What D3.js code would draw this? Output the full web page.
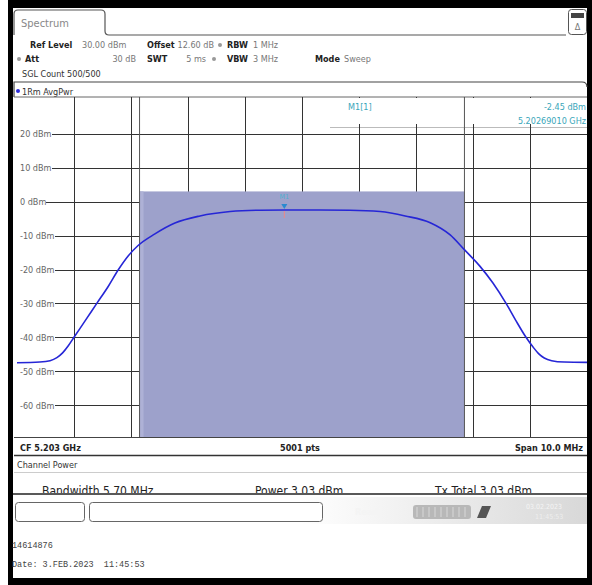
<!DOCTYPE html>
<html>
<head>
<meta charset="utf-8">
<script src="https://cdn.jsdelivr.net/npm/d3@7"></script>
<style>
  body { margin: 0; background: #fff; }
  svg { display: block; }
  text { font-family: "DejaVu Sans Condensed", "DejaVu Sans", sans-serif; }
  .mono { font-family: "Liberation Mono", "DejaVu Sans Mono", monospace; }
</style>
</head>
<body>
<div id="chart"></div>
<script>
// trace: frequency offset from centre (MHz) and level (dBm)
var freqOffset = [-5.0, -4.6, -4.42, -4.3, -4.2, -4.1, -4.0, -3.8, -3.6, -3.4, -3.22, -3.05, -2.88, -2.58, -2.23, -1.79, -1.26, -0.74, -0.3,
                  0.0, 0.32, 0.84, 1.37, 1.81, 2.25, 2.6, 2.84, 3.12, 3.35, 3.58, 3.75, 3.93, 4.05, 4.15, 4.25, 4.38, 4.6, 5.0];
var level = [-47.5, -47.3, -46.9, -46.0, -44.6, -42.5, -40, -35, -30, -25, -20, -16, -13, -9.5, -6.3, -4.2, -2.9, -2.5, -2.45,
             -2.45, -2.45, -2.5, -2.9, -4.2, -6.2, -9.8, -14, -19, -24, -30, -35, -40, -42.8, -44.8, -46.1, -46.9, -47.3, -47.4];

var yTicks = [20, 10, 0, -10, -20, -30, -40, -50, -60];
var xGrid = [-4, -3, -2, -1, 0, 1, 2, 3, 4];
var channelBw = 5.70;      // MHz
var channelPower = 3.03;   // dBm
var marker = { off: -0.31, level: -2.45, label: "M1" };

var W = 592, H = 585;
var svg = d3.select("#chart").append("svg").attr("width", W).attr("height", H);

// outer black frame
svg.append("rect").attr("x", 8).attr("y", 0).attr("width", W - 8).attr("height", H).attr("fill", "#000");
svg.append("rect").attr("x", 13).attr("y", 8).attr("width", 574).attr("height", 570).attr("fill", "#fff");

var x = d3.scaleLinear().domain([-5, 5]).range([17, 587]);
var y = d3.scaleLinear().domain([-70, 30]).range([439, 100]);
var plotTop = 97, plotBot = 437;

// ---- header ----
svg.append("path")
    .attr("d", "M14,35 L14,14 Q14,10 18,10 L101,10 Q105,10 105,14 L105,31 Q105,35 109,35 L566,35")
    .attr("fill", "none").attr("stroke", "#555").attr("stroke-width", 1.2);
svg.append("text").attr("x", 21).attr("y", 27).attr("font-size", 11).attr("fill", "#888").text("Spectrum");
svg.append("rect").attr("x", 568.5).attr("y", 9.5).attr("width", 18).attr("height", 25).attr("rx", 3)
    .attr("fill", "#fff").attr("stroke", "#555");
svg.append("rect").attr("x", 571).attr("y", 13).attr("width", 13).attr("height", 5).attr("fill", "#444");
svg.append("text").attr("x", 577.5).attr("y", 30).attr("font-size", 9).attr("fill", "#777")
    .attr("text-anchor", "middle").text("Δ");

function txt(xp, yp, s, opts) {
    opts = opts || {};
    return svg.append("text").attr("x", xp).attr("y", yp)
        .attr("font-size", opts.size || 9)
        .attr("font-weight", opts.bold ? "bold" : null)
        .attr("fill", opts.fill || "#222")
        .attr("text-anchor", opts.anchor || "start")
        .text(s);
}
function dot(xp, yp, c) {
    svg.append("circle").attr("cx", xp).attr("cy", yp).attr("r", 2).attr("fill", c || "#999");
}

txt(30, 48, "Ref Level", { bold: true });
txt(82, 48, "30.00 dBm", { fill: "#777" });
txt(147, 48, "Offset", { bold: true });
txt(214, 48, "12.60 dB", { fill: "#777", anchor: "end" });
dot(220, 45);
txt(227, 48, "RBW", { bold: true });
txt(253, 48, "1 MHz", { fill: "#777" });

dot(19, 59);
txt(25, 62, "Att", { bold: true });
txt(136, 62, "30 dB", { fill: "#777", anchor: "end" });
txt(147, 62, "SWT", { bold: true });
txt(206, 62, "5 ms", { fill: "#777", anchor: "end" });
dot(214, 59);
txt(227, 62, "VBW", { bold: true });
txt(253, 62, "3 MHz", { fill: "#777" });
txt(315, 62, "Mode", { bold: true });
txt(344, 62, "Sweep", { fill: "#777" });

txt(22, 77, "SGL Count 500/500", { fill: "#333" });

// trace window top
svg.append("path").attr("d", "M14,97 L14,82 L582,82 Q587,82 587,87")
    .attr("fill", "none").attr("stroke", "#444").attr("stroke-width", 1.2);
dot(18, 91, "#2a2ad8");
txt(22, 95, "1Rm AvgPwr", { fill: "#333" });

// ---- plot ----
var plot = svg.append("g");
plot.append("line").attr("x1", 14).attr("x2", 587).attr("y1", plotTop).attr("y2", plotTop)
    .attr("stroke", "#666");

// vertical grid
plot.selectAll(".vg").data(xGrid).enter().append("line")
    .attr("x1", function (d) { return Math.round(x(d)) + 0.5; })
    .attr("x2", function (d) { return Math.round(x(d)) + 0.5; })
    .attr("y1", plotTop).attr("y2", plotBot)
    .attr("stroke", "#333").attr("stroke-width", 1);

// horizontal grid
plot.selectAll(".hg").data(yTicks).enter().append("line")
    .attr("x1", 17).attr("x2", 587)
    .attr("y1", function (d) { return Math.round(y(d)) + 0.5; })
    .attr("y2", function (d) { return Math.round(y(d)) + 0.5; })
    .attr("stroke", "#333").attr("stroke-width", 1);

// channel power area
var cL = x(-channelBw / 2), cR = x(channelBw / 2);
plot.append("rect").attr("x", cL).attr("y", y(channelPower))
    .attr("width", cR - cL).attr("height", plotBot - y(channelPower))
    .attr("fill", "#9da1cb");
plot.append("rect").attr("x", cL).attr("y", y(channelPower))
    .attr("width", 4).attr("height", plotBot - y(channelPower))
    .attr("fill", "#aeb1d6");
plot.selectAll(".cl").data([cL, cR]).enter().append("line")
    .attr("x1", function (d) { return d; }).attr("x2", function (d) { return d; })
    .attr("y1", plotTop).attr("y2", plotBot)
    .attr("stroke", "#555").attr("stroke-width", 1);

// marker info box
plot.append("rect").attr("x", 330).attr("y", plotTop + 1).attr("width", 257).attr("height", 29).attr("fill", "#fff");
plot.append("line").attr("x1", 330).attr("x2", 587).attr("y1", 127.5).attr("y2", 127.5).attr("stroke", "#bbb");
plot.append("line").attr("x1", cR).attr("x2", cR).attr("y1", plotTop).attr("y2", 130).attr("stroke", "#555");
plot.selectAll(".mt").data([1, 2, 3, 4]).enter().append("line")
    .attr("x1", function (d) { return Math.round(x(d)) + 0.5; })
    .attr("x2", function (d) { return Math.round(x(d)) + 0.5; })
    .attr("y1", 124).attr("y2", 131).attr("stroke", "#333");
txt(348, 110, "M1[1]", { fill: "#3aa6ba" });
txt(586, 110, "-2.45 dBm", { fill: "#3aa6ba", anchor: "end" });
txt(586, 124, "5.20269010 GHz", { fill: "#3aa6ba", anchor: "end" });

// y labels with white backing
var lab = plot.selectAll(".yl").data(yTicks).enter().append("g")
    .attr("transform", function (d) { return "translate(19," + y(d) + ")"; });
lab.append("rect").attr("x", -3).attr("y", -5).attr("width", function (d) { return d < 0 ? 39 : (d === 0 ? 30 : 36); })
    .attr("height", 10).attr("fill", "#fff");
lab.append("text").attr("x", 1).attr("y", 3.5).attr("font-size", 9).attr("fill", "#666")
    .text(function (d) { return d + " dBm"; });

// trace
var line = d3.line()
    .x(function (d, i) { return x(freqOffset[i]); })
    .y(function (d) { return y(d); })
    .curve(d3.curveMonotoneX);
plot.append("path").datum(level).attr("d", line)
    .attr("fill", "none").attr("stroke", "#2626d6").attr("stroke-width", 1.6);

// marker
var mx = x(marker.off), my = y(marker.level);
plot.append("line").attr("x1", mx).attr("x2", mx).attr("y1", my + 1).attr("y2", my + 8)
    .attr("stroke", "#e88").attr("stroke-width", 1);
plot.append("path").attr("d", "M" + (mx - 3) + "," + (my - 6) + " L" + (mx + 3) + "," + (my - 6) + " L" + mx + "," + (my - 1) + "Z")
    .attr("fill", "#2a8ad0");
txt(mx, my - 11, marker.label, { fill: "#4fb0d0", anchor: "middle", size: 7 });

// ---- footer of diagram ----
svg.append("line").attr("x1", 14).attr("x2", 587).attr("y1", 437.5).attr("y2", 437.5).attr("stroke", "#444");
txt(20, 451, "CF 5.203 GHz", { bold: true });
txt(300, 451, "5001 pts", { bold: true, anchor: "middle" });
txt(583, 451, "Span 10.0 MHz", { bold: true, anchor: "end" });
svg.append("line").attr("x1", 14).attr("x2", 587).attr("y1", 455.5).attr("y2", 455.5).attr("stroke", "#333").attr("stroke-width", 1.3);

txt(17, 468, "Channel Power", { fill: "#333" });
svg.append("line").attr("x1", 14).attr("x2", 587).attr("y1", 472.5).attr("y2", 472.5).attr("stroke", "#ccc");
txt(42, 495, "Bandwidth  5.70 MHz", { size: 12, fill: "#222" });
txt(255, 495, "Power  3.03 dBm", { size: 12, fill: "#222" });
txt(435, 495, "Tx Total  3.03 dBm", { size: 12, fill: "#222" });
svg.append("rect").attr("x", 13).attr("y", 493).attr("width", 574).attr("height", 4).attr("fill", "#fff");
svg.append("line").attr("x1", 13).attr("x2", 587).attr("y1", 494).attr("y2", 494).attr("stroke", "#222").attr("stroke-width", 1.5);

// status bar
var grad = svg.append("defs").append("linearGradient").attr("id", "sb").attr("x1", "0").attr("x2", "1");
grad.append("stop").attr("offset", "0.5").attr("stop-color", "#fff");
grad.append("stop").attr("offset", "1").attr("stop-color", "#d8d8d8");
svg.append("rect").attr("x", 13).attr("y", 497).attr("width", 574).attr("height", 27).attr("fill", "url(#sb)");
svg.append("rect").attr("x", 15.5).attr("y", 502.5).attr("width", 69).attr("height", 19).attr("rx", 3)
    .attr("fill", "#fff").attr("stroke", "#666");
svg.append("rect").attr("x", 89.5).attr("y", 502.5).attr("width", 233).attr("height", 19).attr("rx", 3)
    .attr("fill", "#fff").attr("stroke", "#666");
txt(355, 515, "Ready", { fill: "#f4f4f4", bold: true });
svg.append("rect").attr("x", 413).attr("y", 505).attr("width", 58).attr("height", 14).attr("rx", 3).attr("fill", "#b8b8b8");
svg.selectAll(".seg").data(d3.range(9)).enter().append("line")
    .attr("x1", function (d) { return 417 + d * 6; }).attr("x2", function (d) { return 417 + d * 6; })
    .attr("y1", 507).attr("y2", 517).attr("stroke", "#d8d8d8");
svg.append("path").attr("d", "M477,518 L482,506 L491,506 L486,518 Z").attr("fill", "#555");
txt(526, 509, "03.02.2023", { fill: "#f4f4f4", size: 7 });
txt(535, 519, "11:45:53", { fill: "#eee", size: 7 });

// print info
svg.append("text").attr("class", "mono").attr("x", 12).attr("y", 548).attr("font-size", 8.5).attr("fill", "#444").text("14614876");
svg.append("text").attr("class", "mono").attr("x", 12).attr("y", 567).attr("font-size", 8.5).attr("fill", "#444")
    .attr("xml:space", "preserve").style("white-space", "pre").text("Date: 3.FEB.2023  11:45:53");
</script>
</body>
</html>
